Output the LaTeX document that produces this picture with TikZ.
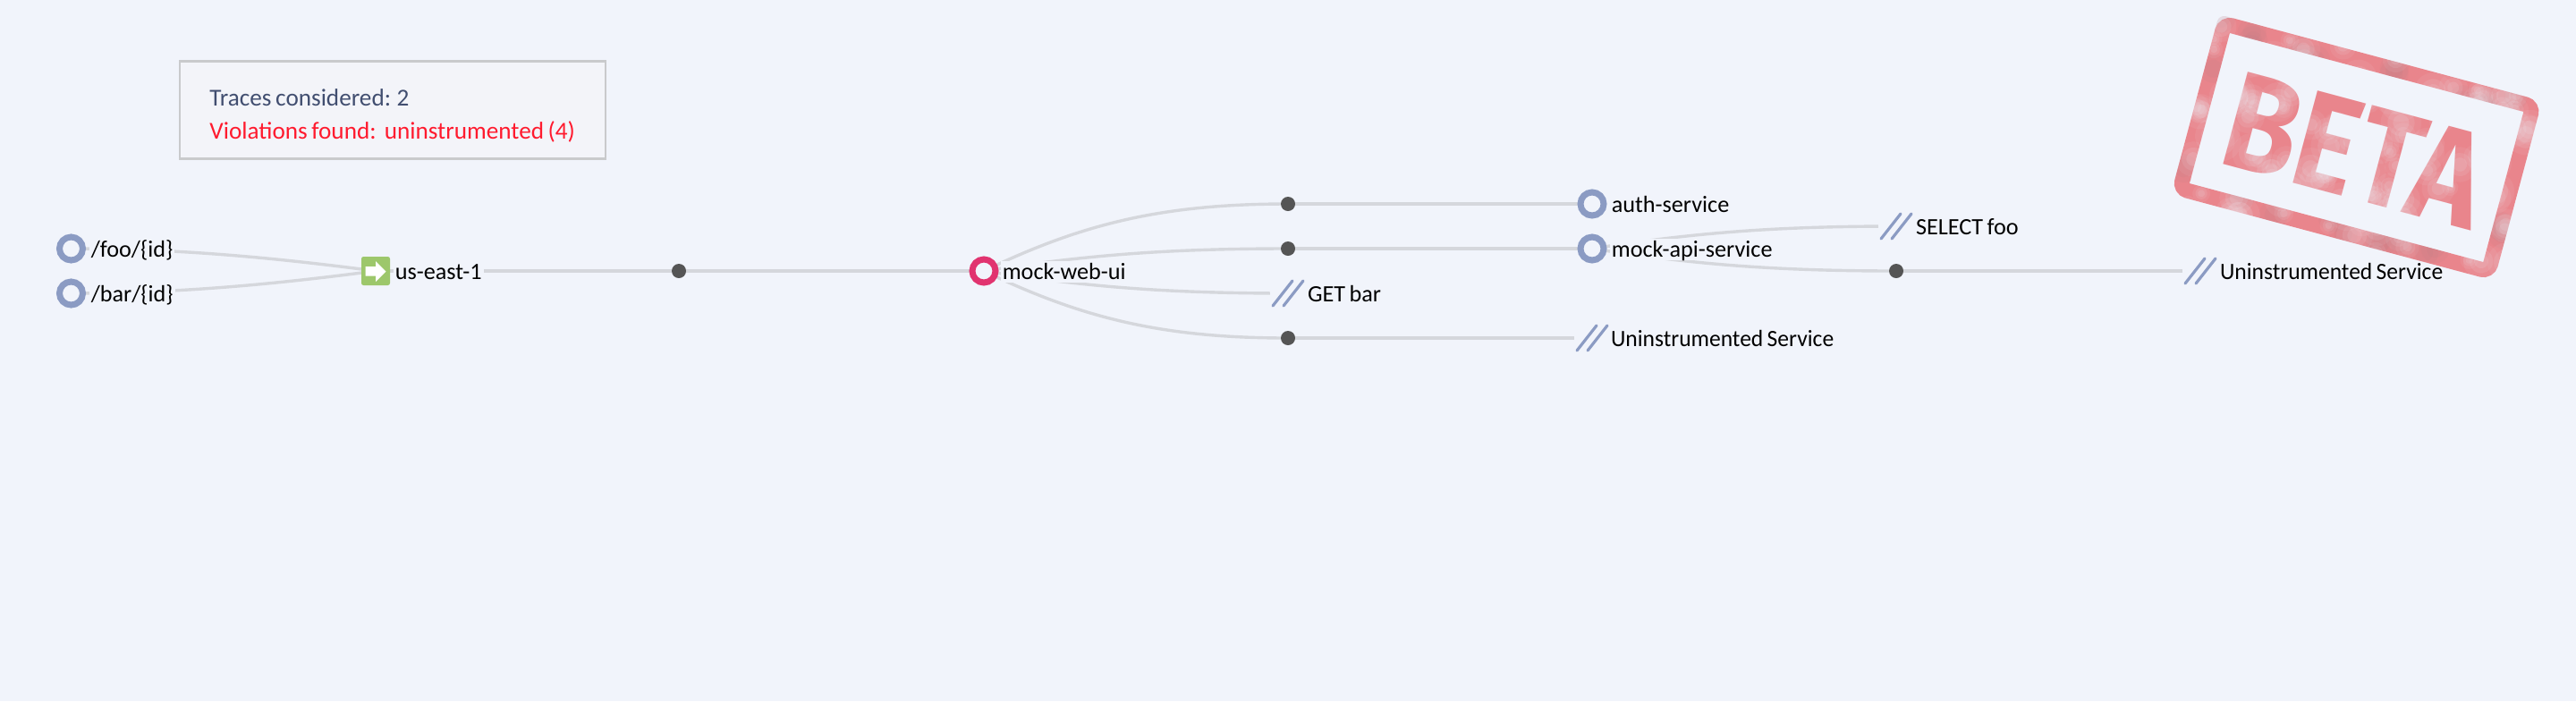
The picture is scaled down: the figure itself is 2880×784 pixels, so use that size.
\documentclass[tikz,border=0pt]{standalone}
\usepackage{fontspec}
\setmainfont{Carlito}[WordSpace=0.75]
\newfontfamily\stampfont{Fira Sans}[FakeStretch=0.86]
\usetikzlibrary{calc}
\definecolor{bgc}{HTML}{F1F4FB}
\definecolor{boxfill}{HTML}{F3F4F9}
\definecolor{boxline}{HTML}{C9CACC}
\definecolor{edgec}{HTML}{D5D7DC}
\definecolor{ringc}{HTML}{8B9BC3}
\definecolor{pinkc}{HTML}{E1336F}
\definecolor{dotc}{HTML}{555555}
\definecolor{greenc}{HTML}{9DC76B}
\definecolor{stampc}{HTML}{E9858C}
\definecolor{stampdark}{HTML}{B98088}
\definecolor{infoc}{HTML}{414E70}
\definecolor{redc}{HTML}{FF1A2E}
\pgfdeclarelayer{base}
\pgfdeclarelayer{edgelayer}
\pgfsetlayers{base,edgelayer,main}
\tikzset{
  ring/.style={circle,draw=ringc,fill=bgc,line width=3.5pt,minimum size=13pt,inner sep=0pt},
  pinkring/.style={ring,draw=pinkc},
  junction/.style={circle,fill=dotc,minimum size=8pt,inner sep=0pt},
  slashbox/.style={rectangle,fill=bgc,minimum size=20pt,inner sep=0pt,
    path picture={
      \draw[ringc,line width=1.6pt,line cap=round]
        ($(path picture bounding box.center)+(-17,14)$) -- ($(path picture bounding box.center)+(5,-14)$)
        ($(path picture bounding box.center)+(-5,14)$) -- ($(path picture bounding box.center)+(17,-14)$);
    }},
  gatebox/.style={rectangle,rounded corners=1.2pt,fill=greenc,minimum size=16pt,inner sep=0pt},
  lbl/.style={anchor=west,inner sep=0pt,xshift=-.7pt,yshift=-.5pt,text height=8.4pt,text depth=0pt,font=\fontsize{13.1pt}{15pt}\selectfont,text=black},
  lblwide/.style={lbl,xscale=.975},
  lblcut/.style={lbl,fill=bgc,inner ysep=2pt,inner xsep=1pt,xshift=-.6pt},
  link/.style={edgec,line width=1.7pt},
  infobox/.style={rectangle,draw=boxline,fill=boxfill,line width=1.2pt,minimum width=238pt,minimum height=54.5pt,inner sep=0pt},
  infotext/.style={anchor=west,inner sep=0pt,text height=8.7pt,text depth=0pt,font=\fontsize{13.6pt}{15pt}\selectfont},
  stampframe/.style={rectangle,draw=stampc,rounded corners=4.25pt,line width=8.5pt,minimum width=178.5pt,minimum height=95.5pt,rotate=-15,inner sep=0pt},
  stamptext/.style={text=stampc,inner sep=0pt,rotate=-15,font=\stampfont\bfseries\fontsize{77pt}{80pt}\selectfont}
}
\begin{document}
\begin{tikzpicture}[x=0.5pt,y=-0.5pt]
\begin{pgfonlayer}{base}
  \path[use as bounding box,fill=bgc] (0,0) rectangle (2880,784);
\end{pgfonlayer}
% stamp
\begin{pgfonlayer}{base}
  \node[stampframe] (stamp) at (2634.6,165) {};
  \node[stamptext] (beta) at (2633,168) {BETA};
  \begin{scope}[shift={(2634.6,165)},rotate=-15]
    \begin{scope}[even odd rule,rounded corners=4pt]
      \clip (-187,-104) rectangle (187,104) (-170,-87) rectangle (170,87);
      \pgfmathsetseed{17}
      \foreach \i in {1,...,45}{
        \pgfmathsetmacro\sx{rnd*374-187}
        \pgfmathsetmacro\sy{rnd*208-104}
        \fill[stampdark,opacity=.12] (\sx,\sy) circle (16);
        \fill[stampdark,opacity=.12] (\sx,\sy) circle (10);
      }
    \end{scope}
    \pgfmathsetseed{5}
    \foreach \i in {1,...,120}{
      \pgfmathsetmacro\sx{rnd*400-200}
      \pgfmathsetmacro\sy{rnd*220-110}
      \pgfmathsetmacro\sr{rnd*10+6}
      \fill[bgc,opacity=.07] (\sx,\sy) circle (\sr*1.5);
      \fill[bgc,opacity=.10] (\sx,\sy) circle (\sr);
      \fill[bgc,opacity=.12] (\sx,\sy) circle (\sr*.6);
    }
  \end{scope}
\end{pgfonlayer}
% info box
\node[infobox] (info) at (439,123) {};
\node[infotext,text=infoc] (tr) at (234,110) {Traces considered: 2};
\node[infotext,text=redc] (vi) at (234,147) {Violations found:\ \ uninstrumented (4)};
% nodes
\node[ring] (foo) at (79.5,278) {};
\node[ring] (bar) at (79.5,328) {};
\node[lblcut] (fool) at (102,278) {/foo/\{id\}};
\node[lblcut] (barl) at (102,328) {/bar/\{id\}};
\node[gatebox] (east) at (420,303) {};
\fill[white] (408.5,298) -- (420,298) -- (420,292) -- (431.5,303.5) -- (420,315) -- (420,308.5) -- (408.5,308.5) -- cycle;
\node[lblcut] (eastl) at (442,303) {us-east-1};
\node[junction] (d0) at (759,303) {};
\node[pinkring] (web) at (1100,303) {};
\node[lblcut] (webl) at (1121,303) {mock-web-ui};
\node[junction] (d1) at (1440,228) {};
\node[junction] (d2) at (1440,278) {};
\node[slashbox] (get) at (1440,328) {};
\node[lbl] (getl) at (1463,328) {GET bar};
\node[junction] (d3) at (1440,378) {};
\node[ring] (auth) at (1780,228) {};
\node[lblcut] (authl) at (1802,228) {auth-service};
\node[ring] (api) at (1780,278) {};
\node[lblcut] (apil) at (1802,278) {mock-api-service};
\node[slashbox] (u1) at (1780,378) {};
\node[lblwide] (u1l) at (1802,378) {Uninstrumented Service};
\node[slashbox] (sel) at (2120,253) {};
\node[lbl] (sell) at (2143,253) {SELECT foo};
\node[junction] (d4) at (2120,303) {};
\node[slashbox] (u2) at (2460,303) {};
\node[lblwide] (u2l) at (2483,303) {Uninstrumented Service};
% connectors
\begin{pgfonlayer}{edgelayer}
  \draw[link] (foo.center) .. controls +(130,0) and +(-100,-13) .. (east.center);
  \draw[link] (bar.center) .. controls +(130,0) and +(-100,13) .. (east.center);
  \draw[link] (east.center) -- (d0.center);
  \draw[link] (d0.center) -- (web.center);
  \draw[link] (web.center) .. controls +(110,-53) and +(-140,0) .. (d1.center);
  \draw[link] (web.center) .. controls +(110,-17) and +(-140,0) .. (d2.center);
  \draw[link] (web.center) .. controls +(110,17) and +(-140,0) .. (get.center);
  \draw[link] (web.center) .. controls +(110,53) and +(-140,0) .. (d3.center);
  \draw[link] (d1.center) -- (auth.center);
  \draw[link] (d2.center) -- (api.center);
  \draw[link] (d3.center) -- (u1.center);
  \draw[link] (api.center) .. controls +(110,-17) and +(-140,0) .. (sel.center);
  \draw[link] (api.center) .. controls +(110,17) and +(-140,0) .. (d4.center);
  \draw[link] (d4.center) -- (u2.center);
\end{pgfonlayer}
\end{tikzpicture}
\end{document}
